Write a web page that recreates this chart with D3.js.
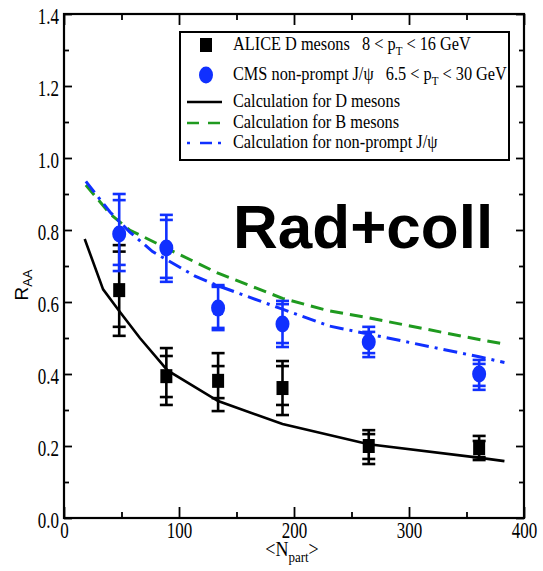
<!DOCTYPE html>
<html>
<head>
<meta charset="utf-8">
<script src="https://cdn.jsdelivr.net/npm/d3@7"></script>
<style>
  body { margin: 0; background: #fff; }
  text { font-family: "Liberation Serif", "Times New Roman", serif; }
  text.sans { font-family: "Liberation Sans", Arial, sans-serif; }
</style>
</head>
<body>
<div id="chart"></div>
<script>
// R_AA vs <Npart>, D mesons / non-prompt J/psi

const WIDTH = 543;
const HEIGHT = 571;

// data points (same Npart for both experiments)
const npart = [48, 89, 134, 190, 265, 361];

const aliceVal   = [0.633, 0.394, 0.381, 0.361, 0.200, 0.194];
const aliceInHi  = [0.740, 0.450, 0.422, 0.422, 0.233, 0.214];
const aliceOutHi = [0.758, 0.472, 0.458, 0.436, 0.244, 0.228];
const aliceInLo  = [0.531, 0.336, 0.333, 0.314, 0.164, 0.169];
const aliceOutLo = [0.506, 0.314, 0.297, 0.286, 0.150, 0.161];

const cmsVal   = [0.789, 0.750, 0.583, 0.539, 0.489, 0.400];
const cmsInHi  = [0.883, 0.828, 0.642, 0.594, 0.517, 0.428];
const cmsOutHi = [0.900, 0.842, 0.647, 0.603, 0.531, 0.439];
const cmsInLo  = [0.703, 0.667, 0.528, 0.486, 0.458, 0.367];
const cmsOutLo = [0.686, 0.656, 0.522, 0.475, 0.447, 0.356];

// calculations
const dCurveX = [18, 34, 48, 66, 90, 134, 190, 265, 362, 383];
const dCurveY = [0.775, 0.635, 0.575, 0.50, 0.41, 0.325, 0.261, 0.205, 0.167, 0.158];

const bCurveX = [19, 40, 57, 92, 134, 190, 231, 265, 362, 383];
const bCurveY = [0.925, 0.845, 0.80, 0.745, 0.68, 0.61, 0.575, 0.556, 0.495, 0.483];

const jCurveX = [19, 40, 57, 77, 114, 134, 190, 231, 265, 362, 383];
const jCurveY = [0.935, 0.85, 0.795, 0.74, 0.672, 0.645, 0.58, 0.533, 0.511, 0.447, 0.432];

const xMajor = [0, 100, 200, 300, 400];
const xMinor = [50, 150, 250, 350];
const yMajor = [0, 0.2, 0.4, 0.6, 0.8, 1.0, 1.2, 1.4];
const yMinor = [0.1, 0.3, 0.5, 0.7, 0.9, 1.1, 1.3];

const BLUE = "#1030ff";
const GREEN = "#1f9a1f";
const SERIF = "'Liberation Serif', 'Times New Roman', serif";
const STRETCH = 1.2;    // the original picture is a bit taller than wide
const TICK_STRETCH = 1.3;

let svg = d3.select("#chart").append("svg")
    .attr("width", WIDTH)
    .attr("height", HEIGHT);

let x = d3.scaleLinear().domain([0, 400]).range([64, 524]);
let y = d3.scaleLinear().domain([0, 1.4]).range([518, 14]);

// turn x/y of a text into a transform so it can be stretched vertically
function stretch(sel, k) {
    sel.each(function() {
        let t = d3.select(this);
        let tx = +t.attr("x") || 0, ty = +t.attr("y") || 0;
        t.attr("x", null).attr("y", null)
         .attr("transform", `translate(${tx},${ty}) scale(1,${k})`);
    });
}

// ---- axes (ticks point inward on all four sides)
function drawAxis(axis, tr, labels) {
    let g = svg.append("g").attr("transform", tr).call(axis);
    g.attr("font-family", null);
    g.select(".domain").remove();
    g.selectAll("line").attr("stroke", "#000").attr("stroke-width", 1.8);
    if (!labels) g.selectAll("text").remove();
    else g.selectAll("text").attr("font-size", 17).attr("fill", "#000")
            .style("font-family", SERIF);
    return g;
}

let bottomMaj = drawAxis(d3.axisBottom(x).tickValues(xMajor).tickSize(-11).tickPadding(4).tickFormat(d3.format("d")),
    `translate(0,${y(0)})`, true);
drawAxis(d3.axisBottom(x).tickValues(xMinor).tickSize(-6), `translate(0,${y(0)})`, false);
drawAxis(d3.axisTop(x).tickValues(xMajor).tickSize(-11), `translate(0,${y(1.4)})`, false);
drawAxis(d3.axisTop(x).tickValues(xMinor).tickSize(-6), `translate(0,${y(1.4)})`, false);

let leftMaj = drawAxis(d3.axisLeft(y).tickValues(yMajor).tickSize(-8).tickPadding(5).tickFormat(d3.format(".1f")),
    `translate(${x(0)},0)`, true);
drawAxis(d3.axisLeft(y).tickValues(yMinor).tickSize(-5), `translate(${x(0)},0)`, false);
drawAxis(d3.axisRight(y).tickValues(yMajor).tickSize(-8), `translate(${x(400)},0)`, false);
drawAxis(d3.axisRight(y).tickValues(yMinor).tickSize(-5), `translate(${x(400)},0)`, false);

stretch(bottomMaj.selectAll("text"), TICK_STRETCH);
stretch(leftMaj.selectAll("text"), TICK_STRETCH);
leftMaj.selectAll("text").attr("dy", "0.45em");

svg.append("rect")
    .attr("x", x(0)).attr("y", y(1.4))
    .attr("width", x(400) - x(0)).attr("height", y(0) - y(1.4))
    .attr("fill", "none").attr("stroke", "#000").attr("stroke-width", 2.2);

// ---- calculation curves
let line = d3.line().x(d => x(d[0])).y(d => y(d[1]));

svg.append("path")
    .datum(dCurveX.map((v, i) => [v, dCurveY[i]]))
    .attr("d", line).attr("fill", "none")
    .attr("stroke", "#000").attr("stroke-width", 2.6);

svg.append("path")
    .datum(bCurveX.map((v, i) => [v, bCurveY[i]]))
    .attr("d", line).attr("fill", "none")
    .attr("stroke", GREEN).attr("stroke-width", 3)
    .attr("stroke-dasharray", "13,7");

svg.append("path")
    .datum(jCurveX.map((v, i) => [v, jCurveY[i]]))
    .attr("d", line).attr("fill", "none")
    .attr("stroke", BLUE).attr("stroke-width", 3)
    .attr("stroke-dasharray", "14,6,3,6");

// ---- data with error bars
function drawPoints(vals, inHi, outHi, inLo, outLo, color, shape) {
    let g = svg.append("g");
    let pts = g.selectAll("g").data(npart).enter().append("g");
    pts.append("line")
        .attr("x1", d => x(d)).attr("x2", d => x(d))
        .attr("y1", (d, i) => y(outHi[i])).attr("y2", (d, i) => y(outLo[i]))
        .attr("stroke", color).attr("stroke-width", 2.6);
    [inHi, outHi, inLo, outLo].forEach(arr => {
        pts.append("line")
            .attr("x1", d => x(d) - 6.5).attr("x2", d => x(d) + 6.5)
            .attr("y1", (d, i) => y(arr[i])).attr("y2", (d, i) => y(arr[i]))
            .attr("stroke", color).attr("stroke-width", 2.6);
    });
    if (shape === "square") {
        pts.append("rect")
            .attr("x", d => x(d) - 6).attr("y", (d, i) => y(vals[i]) - 7)
            .attr("width", 12).attr("height", 14).attr("fill", color);
    } else {
        pts.append("ellipse")
            .attr("cx", d => x(d)).attr("cy", (d, i) => y(vals[i]))
            .attr("rx", 7).attr("ry", 8.5).attr("fill", color);
    }
}

drawPoints(aliceVal, aliceInHi, aliceOutHi, aliceInLo, aliceOutLo, "#000", "square");
drawPoints(cmsVal, cmsInHi, cmsOutHi, cmsInLo, cmsOutLo, BLUE, "circle");

// ---- legend
let leg = svg.append("g");
leg.append("rect")
    .attr("x", 180).attr("y", 32).attr("width", 329).attr("height", 128)
    .attr("fill", "#fff").attr("stroke", "#000").attr("stroke-width", 2);

let rowsY = [45, 75, 102, 123, 143];

leg.append("rect").attr("x", 200).attr("y", rowsY[0] - 7).attr("width", 12).attr("height", 14).attr("fill", "#000");
leg.append("ellipse").attr("cx", 206).attr("cy", rowsY[1]).attr("rx", 7).attr("ry", 8.5).attr("fill", BLUE);
leg.append("line").attr("x1", 187).attr("x2", 222).attr("y1", rowsY[2]).attr("y2", rowsY[2])
    .attr("stroke", "#000").attr("stroke-width", 2.6);
leg.append("line").attr("x1", 187).attr("x2", 222).attr("y1", rowsY[3]).attr("y2", rowsY[3])
    .attr("stroke", GREEN).attr("stroke-width", 2.6).attr("stroke-dasharray", "12,9");
leg.append("line").attr("x1", 187).attr("x2", 222).attr("y1", rowsY[4]).attr("y2", rowsY[4])
    .attr("stroke", BLUE).attr("stroke-width", 2.6).attr("stroke-dasharray", "3,10,12,6");

function legText(i) {
    return leg.append("text")
        .attr("font-size", 16.3)
        .attr("transform", `translate(233,${rowsY[i] + 5}) scale(1,${STRETCH})`);
}
function withPt(t, before, after) {
    t.append("tspan").text(before);
    t.append("tspan").text("T").attr("font-size", 11).attr("dy", 4);
    t.append("tspan").text(after).attr("dy", -4);
}
withPt(legText(0), "ALICE D mesons\u00a0\u00a0 8 < p", " < 16 GeV");
withPt(legText(1), "CMS non-prompt J/\u03c8\u00a0\u00a0 6.5 < p", " < 30 GeV");
legText(2).text("Calculation for D mesons");
legText(3).text("Calculation for B mesons");
legText(4).text("Calculation for non-prompt J/\u03c8");

// ---- axis titles
let xt = svg.append("text")
    .attr("text-anchor", "middle").attr("font-size", 18)
    .attr("transform", `translate(292,556) scale(1,${STRETCH})`);
xt.append("tspan").text("<N");
xt.append("tspan").text("part").attr("font-size", 13).attr("dy", 5);
xt.append("tspan").text(">").attr("dy", -5);

let yt = svg.append("text")
    .attr("class", "sans")
    .attr("text-anchor", "middle").attr("font-size", 19)
    .attr("transform", `translate(28,285) rotate(-90)`);
yt.append("tspan").text("R");
yt.append("tspan").text("AA").attr("font-size", 13).attr("dy", 4);

// big annotation
svg.append("text")
    .attr("class", "sans")
    .attr("x", 233).attr("y", 248)
    .attr("font-weight", "bold").attr("font-size", 62)
    .text("Rad+coll");
</script>
</body>
</html>
